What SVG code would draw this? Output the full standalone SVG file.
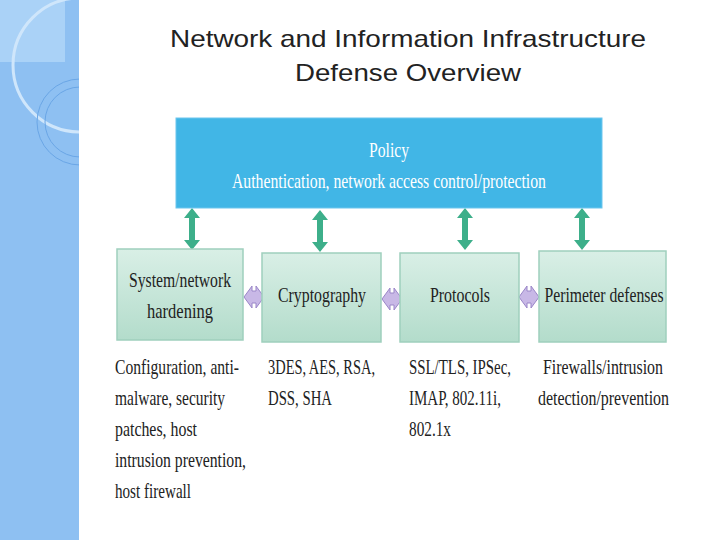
<svg xmlns="http://www.w3.org/2000/svg" width="720" height="540" viewBox="0 0 720 540">
<defs>
<linearGradient id="g" x1="0" y1="0" x2="0" y2="1"><stop offset="0" stop-color="#d9efe6"/><stop offset="1" stop-color="#b3dccb"/></linearGradient>
<clipPath id="strip"><rect x="0" y="0" width="79" height="540"/></clipPath>
<style>
.box{fill:url(#g);stroke:#9fcfbd;stroke-width:1.5}
.t{font-family:"Liberation Serif",serif;font-size:21px;fill:#222}
.tw{font-family:"Liberation Serif",serif;font-size:21px;fill:#fff}
.ga{fill:#3daf8a}
.pa{fill:#c8b8e6;stroke:#9a86c8;stroke-width:1}
</style>
</defs>
<rect x="0" y="0" width="79" height="540" fill="#8ec0f2"/>
<g clip-path="url(#strip)">
<rect x="0" y="0" width="65" height="62" fill="#b2d6f8" opacity="0.8"/>
<circle cx="80" cy="65" r="67" fill="none" stroke="#cfe6fb" stroke-width="3"/>
<circle cx="80" cy="122" r="43" fill="none" stroke="#6aa6e6" stroke-width="1"/>
<circle cx="80" cy="122" r="35" fill="none" stroke="#6aa6e6" stroke-width="1"/>
</g>
<text x="408" y="47" text-anchor="middle" font-family="Liberation Sans,Arial,sans-serif" font-size="24" fill="#222" textLength="476" lengthAdjust="spacingAndGlyphs">Network and Information Infrastructure</text>
<text x="408" y="81" text-anchor="middle" font-family="Liberation Sans,Arial,sans-serif" font-size="24" fill="#222" textLength="226" lengthAdjust="spacingAndGlyphs">Defense Overview</text>
<g id="connectors">
<path class="ga" d="M192 208 l-8 10 h5 v22 h-5 l8 10 l8 -10 h-5 v-22 h5 z"/>
<path class="ga" d="M320 210 l-8 10 h5 v22 h-5 l8 10 l8 -10 h-5 v-22 h5 z"/>
<path class="ga" d="M465 208 l-8 10 h5 v22 h-5 l8 10 l8 -10 h-5 v-22 h5 z"/>
<path class="ga" d="M582 208 l-8 10 h5 v22 h-5 l8 10 l8 -10 h-5 v-22 h5 z"/>
<path class="pa" d="M244 297 l8 -11 v5 h4 v-5 l8 11 l-8 11 v-5 h-4 v5 z"/>
<path class="pa" d="M382 299 l8 -11 v5 h4 v-5 l8 11 l-8 11 v-5 h-4 v5 z"/>
<path class="pa" d="M519 297 l8 -11 v5 h4 v-5 l8 11 l-8 11 v-5 h-4 v5 z"/>
</g>
<g id="policy"><rect x="176" y="118" width="426" height="90" fill="#41b6e6" stroke="#6cc6ee"/>
<text class="tw" x="389" y="157" text-anchor="middle" textLength="40" lengthAdjust="spacingAndGlyphs">Policy</text>
<text class="tw" x="389" y="188" text-anchor="middle" textLength="314" lengthAdjust="spacingAndGlyphs">Authentication, network access control/protection</text></g>
<g id="hardening"><rect class="box" x="117" y="249" width="126" height="91"/>
<text class="t" x="180" y="287" text-anchor="middle" textLength="102" lengthAdjust="spacingAndGlyphs">System/network</text>
<text class="t" x="180" y="318" text-anchor="middle" textLength="66" lengthAdjust="spacingAndGlyphs">hardening</text></g>
<g id="crypto"><rect class="box" x="262" y="253" width="119" height="89"/>
<text class="t" x="322" y="302" text-anchor="middle" textLength="88" lengthAdjust="spacingAndGlyphs">Cryptography</text></g>
<g id="protocols"><rect class="box" x="400" y="253" width="119" height="89"/>
<text class="t" x="460" y="302" text-anchor="middle" textLength="60" lengthAdjust="spacingAndGlyphs">Protocols</text></g>
<g id="perimeter"><rect class="box" x="539" y="251" width="127" height="91"/>
<text class="t" x="604" y="302" text-anchor="middle" textLength="119" lengthAdjust="spacingAndGlyphs">Perimeter defenses</text></g>
<g id="notes" class="t">
<text x="115" y="374" textLength="124" lengthAdjust="spacingAndGlyphs">Configuration, anti-</text>
<text x="115" y="405" textLength="110" lengthAdjust="spacingAndGlyphs">malware, security</text>
<text x="115" y="436" textLength="82" lengthAdjust="spacingAndGlyphs">patches, host</text>
<text x="115" y="467" textLength="131" lengthAdjust="spacingAndGlyphs">intrusion prevention,</text>
<text x="115" y="498" textLength="76" lengthAdjust="spacingAndGlyphs">host firewall</text>
<text x="268" y="374" textLength="107" lengthAdjust="spacingAndGlyphs">3DES, AES, RSA,</text>
<text x="268" y="405" textLength="64" lengthAdjust="spacingAndGlyphs">DSS, SHA</text>
<text x="409" y="374" textLength="102" lengthAdjust="spacingAndGlyphs">SSL/TLS, IPSec,</text>
<text x="409" y="405" textLength="92" lengthAdjust="spacingAndGlyphs">IMAP, 802.11i,</text>
<text x="409" y="436" textLength="42" lengthAdjust="spacingAndGlyphs">802.1x</text>
<text x="543" y="374" textLength="120" lengthAdjust="spacingAndGlyphs">Firewalls/intrusion</text>
<text x="538" y="405" textLength="131" lengthAdjust="spacingAndGlyphs">detection/prevention</text>
</g>
</svg>
